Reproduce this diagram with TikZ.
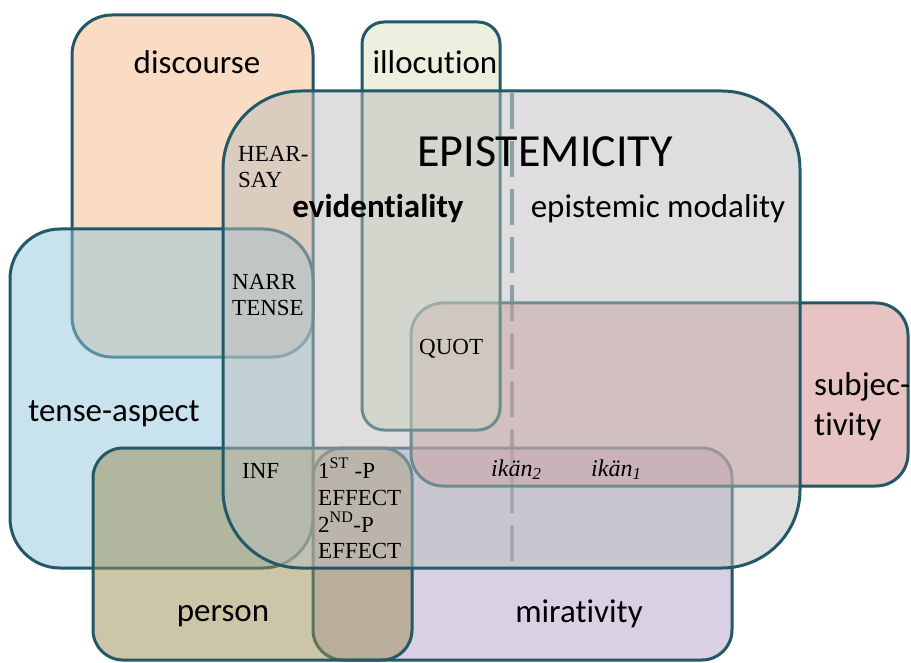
\documentclass[tikz,border=0pt]{standalone}
\usepackage{fontspec}
\setmainfont{Liberation Serif}
\newfontfamily\calfont[Ligatures={NoCommon,NoRare,NoContextual}]{Carlito}

% outline and fill colours of the overlapping domains
\definecolor{edgeteal}{RGB}{33,89,104}
\definecolor{dashgray}{RGB}{93,129,143}
\definecolor{discfill}{RGB}{245,183,137}
\definecolor{illocfill}{RGB}{215,227,189}
\definecolor{tensefill}{RGB}{145,199,219}
\definecolor{subjfill}{RGB}{209,135,135}
\definecolor{personfill}{RGB}{155,139,81}
\definecolor{mirfill}{RGB}{179,161,201}
\definecolor{epifill}{RGB}{189,189,189}

\begin{document}
\begin{tikzpicture}[x=1pt,y=-1pt,
  region/.style={draw=edgeteal, line width=3pt, fill opacity=0.5},
  dashline/.style={draw=dashgray, line width=4pt, dash pattern=on 36pt off 12pt},
  domainlabel/.style={font=\calfont\fontsize{33}{40}\selectfont, inner sep=0pt, anchor=base},
  domainleft/.style={domainlabel, anchor=base west},
  marker/.style={font=\fontsize{23}{27}\selectfont, text=black, inner sep=0pt, anchor=base west},
]
\useasboundingbox (0,0) rectangle (911,663);

% domains, from the bottom layer up
\draw[region, fill=discfill, rounded corners=40pt] (72,15) rectangle (313,357);
\draw[region, fill=tensefill, rounded corners=50pt] (10,229) rectangle (313,568);
\draw[dashline] (512,93) -- (512,568);
\draw[region, fill=mirfill, rounded corners=30pt] (313,448) rectangle (732,660);
\draw[region, fill=personfill, rounded corners=30pt] (93,448) rectangle (412,660);
\draw[region, fill=subjfill, rounded corners=32pt] (411,303) rectangle (908,486);
\draw[region, fill=illocfill, rounded corners=22pt] (362,22) rectangle (500,430);
\draw[region, fill=epifill, rounded corners=78pt] (223,91) rectangle (800,568);

% domain names
\node[domainlabel] (discourse) at (197,74) {discourse};
\node[domainlabel] (illocution) at (435,74) {illocution};
\node[domainlabel, font=\calfont\fontsize{46}{55}\selectfont] (epistemicity) at (545,167) {EPISTEMICITY};
\node[domainlabel, font=\calfont\bfseries\fontsize{33}{40}\selectfont] (evidentiality) at (378,218) {evidentiality};
\node[domainlabel] (epmodality) at (658,218) {epistemic modality};
\node[domainlabel] (tenseaspect) at (114,421) {tense-aspect};
\node[domainlabel] (person) at (223,621) {person};
\node[domainlabel] (mirativity) at (579,622) {mirativity};
\node[domainleft] (subjA) at (814,395) {subjec-};
\node[domainleft] (subjB) at (814,435) {tivity};

% grammatical markers
\node[marker] (hearA) at (238,162) {HEAR-};
\node[marker] (hearB) at (238,188) {SAY};
\node[marker] (narrA) at (232,290) {NARR};
\node[marker] (narrB) at (232,316) {TENSE};
\node[marker] (quot) at (419,355) {QUOT};
\node[marker] (inf) at (242,478) {INF};
\node[marker] (firstA) at (318,478) {1\textsuperscript{ST} -P};
\node[marker] (firstB) at (318,505) {EFFECT};
\node[marker] (secondA) at (318,532) {2\textsuperscript{ND}-P};
\node[marker] (secondB) at (318,558) {EFFECT};
\node[marker, font=\itshape\fontsize{24}{28}\selectfont] (ikanB) at (491,476) {ikän\textsubscript{2}};
\node[marker, font=\itshape\fontsize{24}{28}\selectfont] (ikanA) at (591,476) {ikän\textsubscript{1}};
\end{tikzpicture}
\end{document}
